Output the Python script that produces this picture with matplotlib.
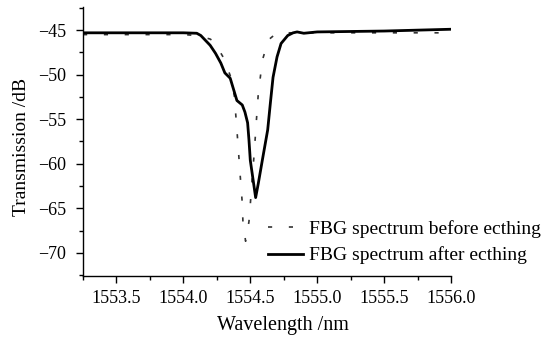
import numpy as np
import matplotlib.pyplot as plt
from matplotlib.ticker import MultipleLocator

plt.rcParams['font.family'] = ['Liberation Serif', 'DejaVu Serif']

# FBG spectrum before etching
wl_before = [1553.25, 1553.6, 1554.0, 1554.1, 1554.2, 1554.23, 1554.3, 1554.35, 1554.38,
             1554.39, 1554.40, 1554.41, 1554.42, 1554.43, 1554.44, 1554.445, 1554.465,
             1554.49, 1554.50, 1554.515, 1554.53, 1554.54, 1554.55, 1554.56, 1554.575,
             1554.59, 1554.635, 1554.70, 1554.80, 1555.0, 1555.5, 1556.0]
tr_before = [-45.5, -45.5, -45.5, -45.6, -46.0, -46.3, -48.1, -50.1, -52.3,
             -54.2, -56.2, -58.2, -60.4, -62.4, -64.4, -66.5, -68.7,
             -66.5, -64.6, -61.5, -58.7, -56.4, -54.2, -52.1, -50.3,
             -48.4, -46.1, -45.3, -45.3, -45.3, -45.3, -45.3]

# FBG spectrum after etching
wl_after = [1553.25, 1553.6, 1554.0, 1554.1, 1554.13, 1554.20, 1554.24, 1554.28, 1554.31,
            1554.35, 1554.37, 1554.40, 1554.44, 1554.46, 1554.48, 1554.49, 1554.50,
            1554.54, 1554.56, 1554.59, 1554.63, 1554.65, 1554.67, 1554.70, 1554.73,
            1554.78, 1554.82, 1554.85, 1554.90, 1555.0, 1555.5, 1556.0]
tr_after = [-45.3, -45.3, -45.3, -45.35, -45.6, -46.7, -47.6, -48.7, -49.8,
            -50.4, -51.4, -52.9, -53.4, -54.2, -55.4, -57.3, -59.6,
            -63.8, -62.2, -59.6, -56.2, -53.2, -50.3, -48.0, -46.5,
            -45.6, -45.3, -45.2, -45.35, -45.2, -45.1, -44.9]

fig = plt.figure(figsize=(5.48, 3.44), dpi=100)
ax = fig.add_axes([0.1515, 0.1977, 0.6715, 0.782])

ax.plot(wl_before, tr_before, color='#333333', lw=1.2, linestyle=(0, (2.5, 10)),
        label='FBG spectrum before ecthing')
ax.plot(wl_after, tr_after, color='black', lw=2.0,
        label='FBG spectrum after ecthing')

ax.set_xlim(1553.25, 1556.0)
ax.set_ylim(-72.6, -42.4)
ax.xaxis.set_major_locator(MultipleLocator(0.5))
ax.xaxis.set_minor_locator(MultipleLocator(0.25))
ax.yaxis.set_major_locator(MultipleLocator(5))
ax.yaxis.set_minor_locator(MultipleLocator(2.5))
ax.set_xticks([1553.5, 1554.0, 1554.5, 1555.0, 1555.5, 1556.0])
ax.set_xticklabels(['1553.5', '1554.0', '1554.5', '1555.0', '1555.5', '1556.0'])

for side in ['top', 'right']:
    ax.spines[side].set_visible(False)
for side in ['left', 'bottom']:
    ax.spines[side].set_linewidth(1.0)
ax.tick_params(which='major', direction='out', length=5, width=1, labelsize=13)
ax.tick_params(which='minor', direction='out', length=3, width=1)
ax.tick_params(axis='y', which='major', pad=7)
ax.tick_params(axis='x', which='major', pad=5)

ax.set_xlabel('Wavelength /nm', fontsize=14.5, va='top')
ax.set_ylabel('Transmission /dB', fontsize=14)
ax.xaxis.set_label_coords(0.543, -0.15)
ax.yaxis.set_label_coords(-0.144, 0.48)

ax.legend(loc='lower right', bbox_to_anchor=(1.275, 0.0), frameon=False, fontsize=14,
          handlelength=1.8, handletextpad=0.3, labelspacing=0.45, borderaxespad=0.2)

fig.savefig('out.png', dpi=100)
